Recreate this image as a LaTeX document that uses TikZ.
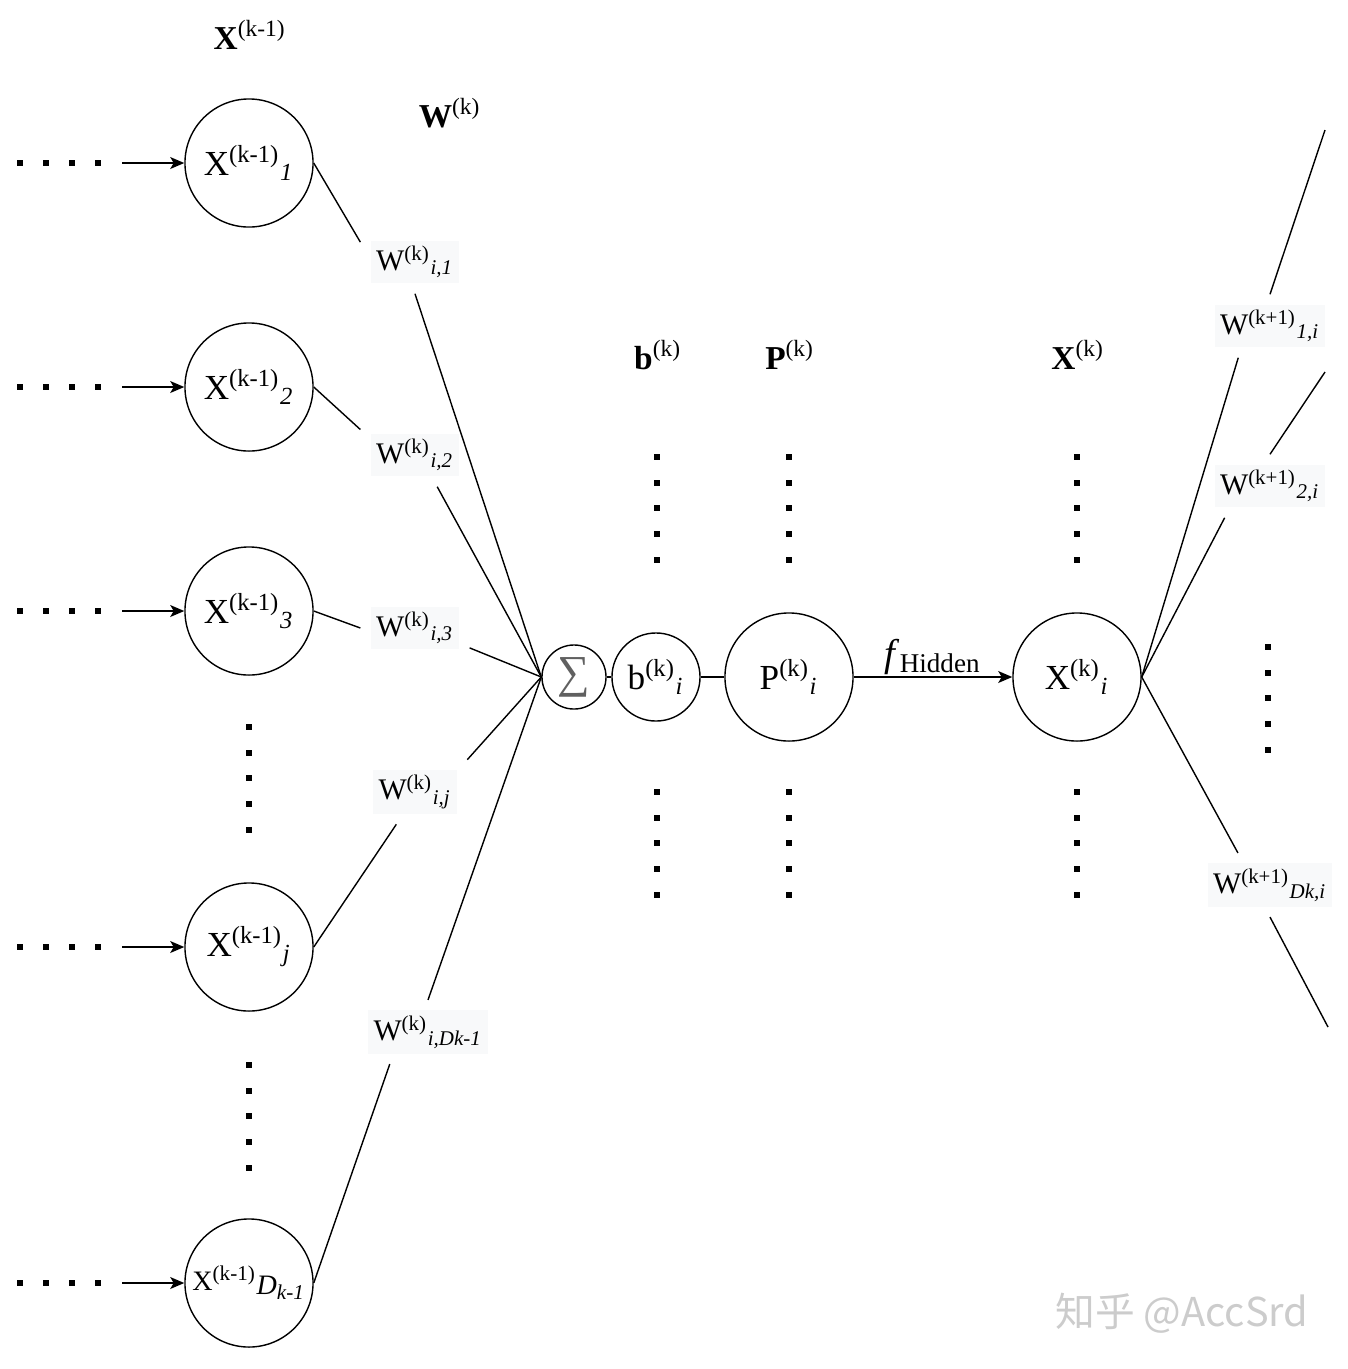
\documentclass[tikz,border=0pt]{standalone}
\usepackage{fontspec}
\setmainfont{Liberation Serif}
\newfontfamily\cjkfont{Noto Sans CJK SC}
\usetikzlibrary{arrows,arrows.meta,positioning}
\definecolor{labbg}{RGB}{248,249,250}

\begin{document}
\begin{tikzpicture}[>={Stealth[length=4pt,width=3.4pt,inset=1pt]},x=0.01cm,y=-0.01cm,
	neuron/.style={draw,circle,inner sep=0pt,minimum size=1.28cm,font=\fontsize{10}{12}\selectfont},
	wlab/.style={fill=labbg,inner sep=1.5pt,outer sep=3pt,font=\fontsize{8.5}{10}\selectfont},
	head/.style={font=\fontsize{9.5}{11}\selectfont}]
	\useasboundingbox (0,0) rectangle (1347,1369);
	
	% layer headings
	\node[head] (hX) at (250,35) {\textbf{X}\textsuperscript{(k-1)}};
	\node[head] (hW) at (450,113) {\textbf{W}\textsuperscript{(k)}};
	\node[head] (hb) at (658,355) {\textbf{b}\textsuperscript{(k)}};
	\node[head] (hP) at (790,355) {\textbf{P}\textsuperscript{(k)}};
	\node[head] (hXk) at (1078,355) {\textbf{X}\textsuperscript{(k)}};
	
	% inputs
	\node[neuron] (x1) at (249,163) {X\textsuperscript{(k-1)}\textsubscript{\textit{1}}};
	\node[neuron] (x2) at (249,387) {X\textsuperscript{(k-1)}\textsubscript{\textit{2}}};
	\node[neuron] (x3) at (249,611) {X\textsuperscript{(k-1)}\textsubscript{\textit{3}}};
	\node[neuron] (xj) at (249,947) {X\textsuperscript{(k-1)}\textsubscript{\textit{j}}};
	\node[neuron,font=\fontsize{8}{10}\selectfont] (xd) at (249,1283) {X\textsuperscript{(k-1)}\raisebox{-0.3ex}{\textit{D}\textsubscript{\textit{k-1}}}};
	
	\node[draw,circle,inner sep=0pt,minimum size=0.64cm,text=gray!75!black,font=\fontsize{13}{15}\selectfont] (sum) at (574,677) {∑};
	\node[neuron,minimum size=0.88cm] (b) at (656,677) {b\textsuperscript{(k)}\textsubscript{\textit{i}}};
	\node[neuron] (p) at (789,677) {P\textsuperscript{(k)}\textsubscript{\textit{i}}};
	\node[neuron] (xi) at (1077,677) {X\textsuperscript{(k)}\textsubscript{\textit{i}}};
	
	% weights
	\node[wlab] (w1) at (415,262) {W\textsuperscript{(k)}\textsubscript{\textit{i,1}}};
	\node[wlab] (w2) at (415,455) {W\textsuperscript{(k)}\textsubscript{\textit{i,2}}};
	\node[wlab] (w3) at (415,628) {W\textsuperscript{(k)}\textsubscript{\textit{i,3}}};
	\node[wlab] (wj) at (415,792) {W\textsuperscript{(k)}\textsubscript{\textit{i,j}}};
	\node[wlab] (wd) at (428,1032) {W\textsuperscript{(k)}\textsubscript{\textit{i,Dk-1}}};
	\node[wlab] (v1) at (1270,326) {W\textsuperscript{(k+1)}\textsubscript{\textit{1,i}}};
	\node[wlab] (v2) at (1270,486) {W\textsuperscript{(k+1)}\textsubscript{\textit{2,i}}};
	\node[wlab] (vd) at (1270,885) {W\textsuperscript{(k+1)}\textsubscript{\textit{Dk,i}}};
	\coordinate (e1) at (1325,130);
	\coordinate (e2) at (1325,372);
	\coordinate (ed) at (1328,1027);
	
	\foreach \n/\y/\ia/\oa in {1/163/160/south,2/387/155/-55,3/611/west/-20,j/947/-120/north east,d/1283/-140/north}{
		\coordinate (a\n) at (122,\y);
		\draw[->] (a\n) -- (x\n);
		\draw (x\n.east) -- (w\n.\ia);
		\draw (w\n.\oa) -- (sum.west);
		\foreach \x in {20,46,72,98} \fill (\x-3,\y-3) rectangle +(6,6);
	}
	\foreach \n/\ia/\oa in {1/-135/north,2/-145/north,d/135/south}{
		\draw (xi.east) -- (v\n.\ia);
		\draw (v\n.\oa) -- (e\n);
	}
	\draw (sum) -- (b) -- (p);
	\draw[->] (p) -- (xi) node[midway,above=-3pt,font=\fontsize{11}{13}\selectfont] (fh) {\textit{f}\textsubscript{Hidden}};
	
	% vertical dots
	\foreach \x/\y in {249/727,249/1065,657/457,789/457,1077/457,657/792,789/792,1077/792,1268/647}
		\foreach \k in {0,...,4} \fill (\x-3,\y+25.7*\k-3) rectangle +(6,6);
	
	\node[text=gray!40,font=\cjkfont\fontsize{11.3}{13}\selectfont] (wm) at (1182,1313) {知乎 @AccSrd};
\end{tikzpicture}
\end{document}
